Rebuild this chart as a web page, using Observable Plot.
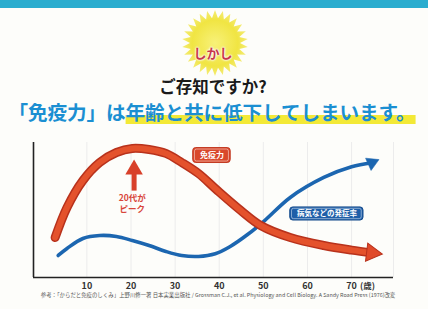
<!DOCTYPE html>
<html><head><meta charset="utf-8">
<script src="https://cdn.jsdelivr.net/npm/d3@7"></script>
<script src="https://cdn.jsdelivr.net/npm/@observablehq/plot@0.6"></script>
<style>
body{margin:0;background:#fdfdfa;font-family:"Noto Sans CJK JP","Noto Sans",sans-serif;width:428px;height:309px;overflow:hidden;position:relative}
#bar{position:absolute;left:0;top:0;width:428px;height:8px;background:#2badcf}
.t{position:absolute;transform:translate(-50%,-50%);white-space:nowrap;line-height:1;font-weight:700}
#burst{position:absolute;left:178px;top:6px}
#shikashi{left:213px;top:52px;font-size:13px;color:#c8384a;text-shadow:0 0 2px #fff,0 0 2px #fff,0 0 3px #fff}
#q{left:213px;top:86px;font-size:16.5px;color:#1a1a1a}
#main{left:212px;top:112px;font-size:19.6px;color:#1b8fd2;letter-spacing:-0.1px}
#main .hl{background:linear-gradient(to bottom,transparent 62%,#f3e936 62%,#f3e936 92%,transparent 92%)}
#chart{position:absolute;left:0;top:130px}
#note{left:218px;top:296px;font-size:5.4px;color:#555;font-weight:400}
</style></head>
<body>
<div id="bar"></div>
<svg id="burst" width="74" height="74"></svg>
<div class="t" id="shikashi">しかし</div>
<div class="t" id="q">ご存知ですか?</div>
<div class="t" id="main">「免疫力」は<span class="hl">年齢と共に低下してしまいます。</span></div>
<div id="chart"></div>
<div class="t" id="note">参考：「からだと免疫のしくみ」上野川修一著 日本実業出版社 / Grossman C.J., et al. Physiology and Cell Biology. A Sandy Road Press (1976)改変</div>
<script>
// ---- data ----
const xTicks = [10, 20, 30, 40, 50, 60, 70];
const unitLabel = "(歳)";
const immunityAge   = [2.8, 5.5, 9.1, 12.9, 16.7, 20.3, 24.1, 27.9, 31.5, 35.3, 39.4, 44.9, 49.4, 56.1, 63.7, 70.0, 74.6];
const immunityValue = [29.6, 51.9, 71.9, 85.2, 92.6, 95.6, 94.8, 91.9, 85.2, 77.0, 65.0, 49.6, 38.5, 29.6, 23.7, 20.3, 18.3];
const diseaseAge    = [3.5, 5.5, 9.1, 12.9, 16.7, 20.3, 24.1, 27.9, 31.5, 35.3, 39.1, 42.5, 46.5, 50.3, 56.1, 63.7, 70.0, 74.6];
const diseaseValue  = [16.3, 21.5, 28.9, 31.1, 30.4, 27.4, 23.7, 19.3, 16.3, 15.6, 17.6, 23.0, 32.0, 42.2, 59.3, 74.1, 82.0, 85.0];
const immunityLabel = "免疫力";
const diseaseLabel = "病気などの発症率";
const peakAge = 20.7;
const peakText = ["20代が", "ピーク"];

// ---- starburst decoration ----
(function(){
  const s = d3.select("#burst");
  const defs = s.append("defs");
  const g = defs.append("radialGradient").attr("id","bg");
  g.append("stop").attr("offset","0%").attr("stop-color","#f7f06a");
  g.append("stop").attr("offset","70%").attr("stop-color","#efe22e");
  g.append("stop").attr("offset","100%").attr("stop-color","#f3ea6a");
  const n = 26, cx = 37, cy = 37, ro = 33, ri = 25;
  const pts = d3.range(n*2).map(i => {
    const a = Math.PI * i / n - Math.PI/2, r = i % 2 ? ri : ro;
    return [cx + r*Math.cos(a), cy + r*Math.sin(a)];
  });
  s.append("polygon").attr("points", pts.map(p=>p.join(",")).join(" ")).attr("fill","url(#bg)").attr("opacity",0.9);
})();

const immunity = immunityAge.map((a,i)=>({age:a, v:immunityValue[i]}));
const disease = diseaseAge.map((a,i)=>({age:a, v:diseaseValue[i]}));
const lastI = immunity[immunity.length-1];
const lastD = disease[disease.length-1];
const xMin = -2.1;

const plot = Plot.plot({
  width: 428, height: 165,
  marginLeft: 33, marginRight: 35, marginTop: 12, marginBottom: 18,
  x: {domain: [xMin, 79.5], axis: null},
  y: {domain: [0, 100], axis: null},
  style: {background: "transparent", fontFamily: "'Noto Sans CJK JP', sans-serif", overflow: "visible"},
  marks: [
    Plot.ruleX(xTicks, {y1: 0, y2: 100, stroke: "#ececec", strokeWidth: 1}),
    Plot.ruleX([79.5], {y1: 0, y2: 100, stroke: "#ececec", strokeWidth: 1}),
    Plot.ruleY([0], {x1: xMin, x2: 79.5, stroke: "#222", strokeWidth: 1.6}),
    Plot.ruleX([xMin], {y1: 0, y2: 100, stroke: "#222", strokeWidth: 1.6}),
    Plot.text(xTicks, {x: d => d, y: 0, dy: 9, text: d => String(d), fontSize: 9, fill: "#333", fontWeight: "bold"}),
    Plot.text([unitLabel], {x: 73.6, y: 0, dy: 9, text: d => d, fontSize: 8.5, fill: "#333", fontWeight: "bold"}),
    // disease line (blue)
    Plot.line(disease, {x: "age", y: "v", curve: "catmull-rom", stroke: "#1c66b0", strokeWidth: 3.6}),
    Plot.dot([lastD], {x: "age", y: "v", symbol: "triangle", r: 5, rotate: 66, fill: "#1c66b0", stroke: "#1c66b0", strokeWidth: 0.5}),
    // immunity line (red)
    Plot.line(immunity, {x: "age", y: "v", curve: "catmull-rom", stroke: "#b8321c", strokeWidth: 9}),
    Plot.line(immunity, {x: "age", y: "v", curve: "catmull-rom", stroke: "#e4522c", strokeWidth: 6}),
    Plot.dot([lastI], {x: "age", y: "v", symbol: "triangle", r: 6.8, rotate: 97, fill: "#e04a2a", stroke: "#b8321c", strokeWidth: 1}),
    // peak arrow
    Plot.ruleX([peakAge], {y1: 64, y2: 78, stroke: "#d8402a", strokeWidth: 5}),
    Plot.dot([peakAge], {x: d => d, y: 80, symbol: "triangle", r: 6.5, fill: "#d8402a"}),
    Plot.text([peakText.join("\n")], {x: peakAge - 0.4, y: 55, text: d => d, fontSize: 8.5, lineHeight: 1.25, fill: "#d8453a", fontWeight: "bold"}),
    // immunity label box
    Plot.rect([immunityLabel], {x1: 34.1, x2: 42.6, y1: 84.8, y2: 95.9, fill: "#d9482b", stroke: "#c23a22", rx: 3}),
    Plot.rect([immunityLabel], {x1: 34.5, x2: 42.2, y1: 85.9, y2: 94.8, fill: "none", stroke: "#fff", strokeOpacity: 0.6, strokeWidth: 0.8, rx: 2}),
    Plot.text([immunityLabel], {x: 38.35, y: 90.3, text: d => d, fill: "#fff", fontSize: 8, fontWeight: "bold"}),
    // disease label box
    Plot.rect([diseaseLabel], {x1: 56.1, x2: 72.7, y1: 42.2, y2: 51.9, fill: "#1e5ea8", stroke: "#164c8c", rx: 3}),
    Plot.rect([diseaseLabel], {x1: 56.5, x2: 72.3, y1: 43.2, y2: 50.9, fill: "none", stroke: "#fff", strokeOpacity: 0.6, strokeWidth: 0.8, rx: 2}),
    Plot.text([diseaseLabel], {x: 64.4, y: 47.05, text: d => d, fill: "#fff", fontSize: 7.5, fontWeight: "bold"})
  ]
});
document.getElementById("chart").append(plot);
</script>
</body></html>
